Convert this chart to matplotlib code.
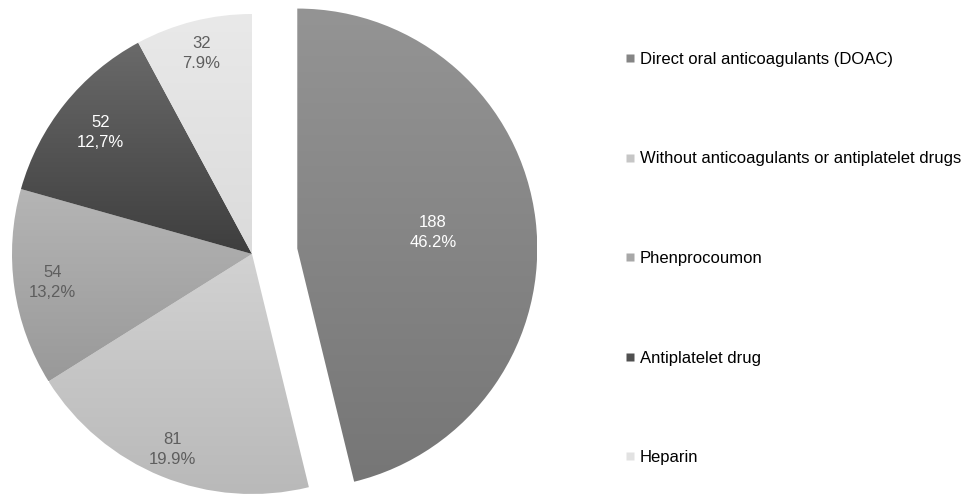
import numpy as np
import matplotlib
matplotlib.use("Agg")
import matplotlib.pyplot as plt
from matplotlib.lines import Line2D
from matplotlib.colors import LinearSegmentedColormap

categories = ["Direct oral anticoagulants (DOAC)",
              "Without anticoagulants or antiplatelet drugs",
              "Phenprocoumon",
              "Antiplatelet drug",
              "Heparin"]
counts = [188, 81, 54, 52, 32]
pct_labels = ["46.2%", "19.9%", "13,2%", "12,7%", "7.9%"]
top_colors = ["#949494", "#d2d2d2", "#b5b5b5", "#6a6a6a", "#e9e9e9"]
bottom_colors = ["#767676", "#b9b9b9", "#999999", "#3e3e3e", "#dbdbdb"]
legend_colors = ["#858585", "#c6c6c6", "#a8a8a8", "#505050", "#e2e2e2"]
label_colors = ["white", "#5e5e5e", "#5e5e5e", "white", "#5e5e5e"]
label_dist = [0.57, 0.88, 0.84, 0.81, 0.86]
explode_frac = [0.19, 0, 0, 0, 0]

plt.rcParams['font.family'] = ['Liberation Sans', 'DejaVu Sans']

W, H = 961, 495
fig = plt.figure(figsize=(W / 100, H / 100), dpi=100)
ax = fig.add_axes([0, 0, 1, 1])

R = 240
cx, cy = 252, H - 254
wedges, _ = ax.pie(counts, startangle=90, counterclock=False, radius=R,
                   center=(cx, cy), explode=[e * R for e in explode_frac],
                   wedgeprops=dict(linewidth=0), frame=True)
ax.set_aspect('equal')
ax.axis('off')

grad = np.linspace(0, 1, 256).reshape(-1, 1)
for w, tc, bc in zip(wedges, top_colors, bottom_colors):
    ext = w.get_path().get_extents()
    cmap = LinearSegmentedColormap.from_list("g", [bc, tc])
    im = ax.imshow(grad, cmap=cmap, aspect='auto', origin='lower',
                   extent=(ext.x0, ext.x1, ext.y0, ext.y1), zorder=1)
    im.set_clip_path(w)
    w.set_facecolor('none')

for w, n, p, lc, d in zip(wedges, counts, pct_labels, label_colors, label_dist):
    ang = np.deg2rad((w.theta1 + w.theta2) / 2)
    wx, wy = w.center
    ax.text(wx + d * R * np.cos(ang), wy + d * R * np.sin(ang),
            f"{n}\n{p}", ha='center', va='center', color=lc,
            fontsize=12, linespacing=1.42, zorder=3)

ax.set_xlim(0, W)
ax.set_ylim(0, H)

handles = [Line2D([], [], marker='s', linestyle='none', markersize=6,
                  markerfacecolor=c, markeredgecolor='none') for c in legend_colors]
fig.legend(handles, categories, loc='upper left', bbox_to_anchor=(625 / W, 1 - 52 / H),
           frameon=False, fontsize=12, labelspacing=5.07, handlelength=0.6,
           handletextpad=0.3, borderpad=0, borderaxespad=0)

fig.savefig("out.png", dpi=100)
